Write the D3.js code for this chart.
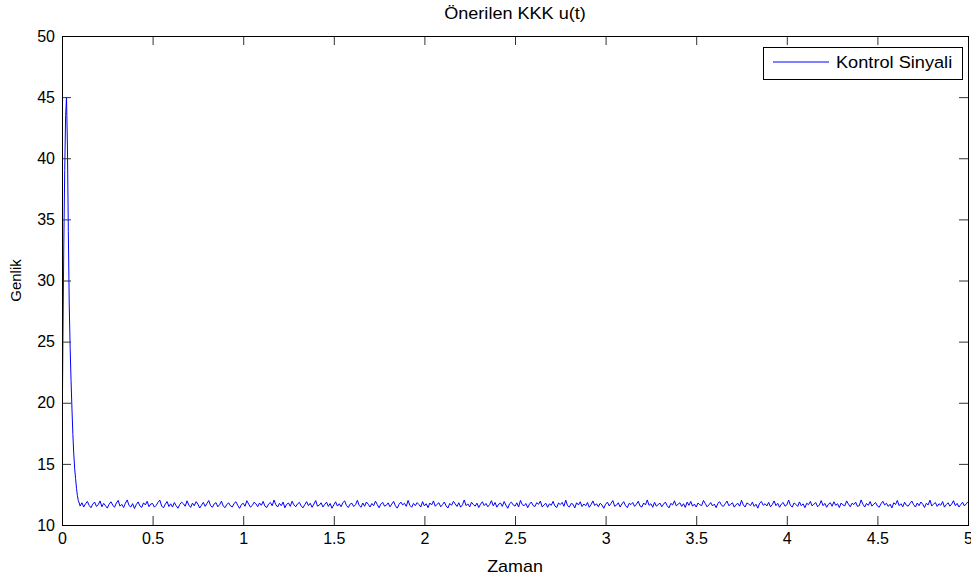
<!DOCTYPE html>
<html>
<head>
<meta charset="utf-8">
<script src="https://cdn.jsdelivr.net/npm/d3@7"></script>
<style>
  body { margin: 0; background: #fff; }
  text { font-family: "Liberation Sans", Arial, sans-serif; fill: #000; }
</style>
</head>
<body>
<svg id="chart"></svg>
<script>
// Önerilen KKK u(t) - control signal

var xTicks = [0, 0.5, 1, 1.5, 2, 2.5, 3, 3.5, 4, 4.5, 5];
var yTicks = [10, 15, 20, 25, 30, 35, 40, 45, 50];

// start-up transient (t, u)
var transientT = [0, 0.005, 0.01, 0.015, 0.02, 0.025, 0.03, 0.035, 0.04, 0.045, 0.05,
                  0.055, 0.06, 0.065, 0.07, 0.075, 0.08, 0.085, 0.09, 0.095];
var transientU = [15.6, 25, 33, 39, 43.5, 45, 41, 34, 28, 24.5, 21.8,
                  19.5, 17.4, 15.8, 14.6, 13.8, 13.0, 12.4, 12.0, 11.8];

// steady part, sampled every 0.01 s from t = 0.1
var steadyStart = 0.1, steadyStep = 0.01;
var steadyU = [
  11.55,11.82,11.47,11.74,11.93,11.60,11.41,11.71,11.88,11.52,11.66,11.97,11.49,11.77,11.58,11.38,11.70,11.90,11.63,11.45,
  11.80,12.01,11.54,11.69,11.43,11.78,12.05,11.59,11.48,11.75,11.35,11.67,11.89,11.56,11.44,11.81,11.64,11.94,11.50,11.72,
  11.76,11.46,11.61,11.86,12.03,11.55,11.40,11.70,11.92,11.51,11.73,11.47,11.84,11.58,11.37,11.68,11.87,11.74,11.53,11.98,
  11.63,11.44,11.79,11.57,11.91,11.71,11.39,11.62,11.85,11.52,11.76,12.00,11.58,11.45,11.73,11.83,11.49,11.66,11.95,11.54,
  11.42,11.69,11.81,11.56,11.48,11.77,11.90,11.60,11.36,11.67,11.78,11.53,11.99,11.72,11.46,11.59,11.86,11.74,11.50,11.80,
  11.61,11.93,11.54,11.43,11.71,11.84,11.57,12.04,11.66,11.47,11.77,11.58,11.88,11.41,11.70,11.80,11.52,11.95,11.64,11.49,
  11.73,11.85,11.56,11.40,11.67,11.91,11.58,11.78,11.45,11.71,12.00,11.54,11.62,11.82,11.47,11.69,11.87,11.52,11.76,11.37,
  11.65,11.90,11.55,11.74,11.49,11.83,11.97,11.59,11.43,11.71,11.78,11.51,11.66,12.02,11.61,11.45,11.80,11.53,11.88,11.70,
  11.47,11.76,11.58,11.95,11.67,11.41,11.73,11.85,11.54,11.62,11.81,11.49,11.71,11.93,11.57,11.38,11.69,11.87,11.64,11.78,
  11.52,12.01,11.61,11.45,11.77,11.58,11.83,11.67,11.47,11.91,11.56,11.74,11.42,11.80,11.64,11.97,11.53,11.70,11.82,11.49,
  11.67,11.88,11.56,11.39,11.76,11.61,11.94,11.72,11.52,11.82,11.46,11.65,12.05,11.58,11.73,11.48,11.86,11.67,11.54,11.79,
  11.43,11.71,11.90,11.59,11.76,11.49,11.67,11.99,11.56,11.84,11.46,11.70,11.80,11.52,11.92,11.62,11.37,11.74,11.87,11.64,
  11.54,11.82,11.47,12.01,11.67,11.57,11.76,11.42,11.71,11.88,11.59,11.51,11.83,11.69,11.96,11.48,11.65,11.78,11.45,11.73,
  11.61,11.93,11.56,11.43,11.80,11.67,11.85,11.53,12.03,11.59,11.47,11.76,11.70,11.40,11.82,11.64,11.90,11.51,11.72,11.57,
  11.84,11.45,11.67,11.97,11.59,11.74,11.49,11.78,11.64,11.37,11.70,11.87,11.56,11.77,12.00,11.53,11.62,11.82,11.47,11.72,
  11.91,11.58,11.42,11.77,11.67,11.84,11.52,11.70,11.94,11.56,11.47,11.80,11.64,12.05,11.61,11.74,11.45,11.86,11.54,11.67,
  11.79,11.49,11.71,11.88,11.58,11.40,11.77,11.64,11.98,11.56,11.70,11.82,11.52,11.74,11.44,11.87,11.61,11.93,11.54,11.71,
  11.47,11.80,11.66,11.58,12.01,11.76,11.49,11.64,11.84,11.56,11.71,11.42,11.78,11.90,11.61,11.52,11.74,11.96,11.58,11.69,
  11.82,11.46,11.67,11.77,11.54,12.02,11.64,11.47,11.80,11.71,11.58,11.87,11.52,11.70,11.38,11.78,11.92,11.61,11.74,11.56,
  11.85,11.49,11.67,11.97,11.58,11.77,11.45,11.71,11.84,11.54,11.64,12.04,11.61,11.47,11.80,11.69,11.52,11.89,11.58,11.73,
  11.42,11.78,11.66,11.93,11.56,11.71,11.84,11.49,11.64,12.00,11.58,11.77,11.45,11.70,11.82,11.53,11.90,11.61,11.74,11.43,
  11.80,11.64,11.56,11.97,11.71,11.49,11.78,11.67,11.87,11.52,11.58,12.05,11.70,11.47,11.77,11.61,11.92,11.54,11.71,11.84,
  11.56,11.45,11.74,11.94,11.64,11.78,11.52,11.70,11.40,11.82,11.67,12.01,11.58,11.74,11.49,11.86,11.61,11.54,11.77,11.96,
  11.66,11.47,11.80,11.58,11.88,11.71,11.43,11.78,11.64,12.03,11.56,11.70,11.84,11.52,11.74,11.61,11.92,11.46,11.67,11.82,
  11.54,11.71,11.99,11.58,11.77,11.47,11.67,11.86,11.56,11.73,11.90
];

var W = 971, H = 581;
var margin = {top: 36, right: 3, bottom: 56, left: 62},
    width = W - margin.left - margin.right,
    height = H - margin.top - margin.bottom;

var svg = d3.select("#chart").attr("width", W).attr("height", H);

var x = d3.scaleLinear().domain([0, 5]).range([0, width]);
var y = d3.scaleLinear().domain([10, 50]).range([height, 0]);

var g = svg.append("g")
    .attr("transform", "translate(" + margin.left + "," + margin.top + ")");

// build the series
var data = transientT.map(function(t, i) { return [t, transientU[i]]; });
steadyU.forEach(function(u, i) { data.push([steadyStart + i * steadyStep, u]); });

g.append("defs").append("clipPath").attr("id", "clip")
  .append("rect").attr("width", width).attr("height", height);

var line = d3.line()
    .x(function(d) { return x(d[0]); })
    .y(function(d) { return y(d[1]); });

g.append("path")
    .datum(data)
    .attr("clip-path", "url(#clip)")
    .attr("fill", "none")
    .attr("stroke", "#0000ff")
    .attr("stroke-width", 1)
    .attr("d", line);

// axes, ticks inward on all four sides
var tickLen = 9;
function styleAxis(sel) {
  sel.select(".domain").remove();
  sel.selectAll(".tick line").attr("stroke", "#333");
  sel.selectAll(".tick text").style("font-size", "16px")
    .style("font-family", "'Liberation Sans', Arial, sans-serif").attr("fill", "#000");
}

g.append("g")
    .attr("transform", "translate(0," + height + ")")
    .call(d3.axisBottom(x).tickValues(xTicks).tickSizeInner(-tickLen).tickSizeOuter(0)
      .tickPadding(8).tickFormat(d3.format("")))
    .call(styleAxis);

g.append("g")
    .call(d3.axisTop(x).tickValues(xTicks).tickSizeInner(-tickLen).tickSizeOuter(0).tickFormat(""))
    .call(styleAxis);

g.append("g")
    .call(d3.axisLeft(y).tickValues(yTicks).tickSizeInner(-tickLen).tickSizeOuter(0)
      .tickPadding(7))
    .call(styleAxis);

g.append("g")
    .attr("transform", "translate(" + width + ",0)")
    .call(d3.axisRight(y).tickValues(yTicks).tickSizeInner(-tickLen).tickSizeOuter(0).tickFormat(""))
    .call(styleAxis);

// box
g.append("rect")
    .attr("width", width).attr("height", height)
    .attr("fill", "none").attr("stroke", "#000").attr("stroke-width", 1)
    .attr("shape-rendering", "crispEdges");

// labels (slightly widened, the reference figure is stretched horizontally)
function label(px, py, str, size, sx, rot) {
  svg.append("text")
    .attr("transform", "translate(" + px + "," + py + ")" + (rot ? " rotate(-90)" : " scale(" + sx + ",1)"))
    .attr("text-anchor", "middle").style("font-size", size + "px")
    .text(str);
}
label(margin.left + width / 2, 19, "Önerilen KKK u(t)", 16, 1.13);
label(margin.left + width / 2, 572, "Zaman", 16, 1.12);
label(21, margin.top + height / 2, "Genlik", 15, 1, true);

// legend
var legend = g.append("g").attr("transform", "translate(" + (width - 205) + ",11)");
legend.append("rect")
    .attr("width", 199).attr("height", 32)
    .attr("fill", "#fff").attr("stroke", "#000").attr("shape-rendering", "crispEdges");
legend.append("line")
    .attr("x1", 10).attr("x2", 66).attr("y1", 15).attr("y2", 15)
    .attr("stroke", "#0000ff").attr("stroke-width", 1);
legend.append("text")
    .attr("transform", "translate(73,21) scale(1.07,1)")
    .style("font-size", "17px")
    .text("Kontrol Sinyali");
</script>
</body>
</html>
